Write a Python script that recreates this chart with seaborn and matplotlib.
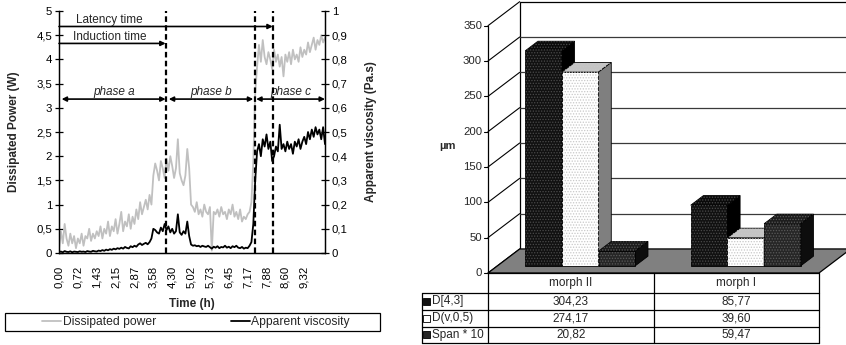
import numpy as np
import pandas as pd
import matplotlib
matplotlib.use("Agg")
import matplotlib.pyplot as plt
import seaborn as sns
from matplotlib.patches import Polygon, Rectangle
from matplotlib.lines import Line2D
from matplotlib.ticker import FuncFormatter
from matplotlib.transforms import blended_transform_factory

# ---- left chart data (one sample every 4.3 min) ----
STEP_H = 0.0716667
power_w = [
    0.10, 0.45, 0.20, 0.60, 0.30, 0.15, 0.40, 0.20, 0.35, 0.10,
    0.30, 0.20, 0.40, 0.15, 0.35, 0.30, 0.50, 0.25, 0.40, 0.30,
    0.45, 0.35, 0.55, 0.30, 0.50, 0.40, 0.65, 0.35, 0.55, 0.45,
    0.70, 0.40, 0.60, 0.85, 0.45, 0.65, 0.55, 0.80, 0.50, 0.75,
    0.60, 0.90, 0.70, 1.05, 0.80, 0.95, 1.10, 0.90, 1.20, 1.00,
    1.60, 1.85, 1.70, 1.50, 1.90, 1.75, 1.55, 1.95, 1.70, 2.00,
    1.80, 1.55, 1.75, 2.35, 1.65, 1.50, 1.40, 1.60, 2.15, 1.75,
    1.00, 0.95, 0.85, 1.05, 0.80, 0.90, 0.75, 1.00, 0.85, 0.80,
    0.95, 0.05, 0.85, 0.80, 0.90, 0.75, 0.95, 0.80, 0.85, 0.70,
    0.90, 0.80, 1.00, 0.75, 0.85, 0.70, 0.90, 0.65, 0.75, 0.70,
    0.80, 0.85, 1.05, 1.90, 3.30, 3.85, 4.30, 3.95, 4.40, 4.05,
    3.90, 4.15, 4.00, 3.80, 4.20, 3.95, 4.10, 3.85, 4.05, 3.65,
    4.10, 3.95, 4.15, 3.90, 4.20, 4.00, 4.10, 3.95, 4.25, 4.05,
    4.20, 4.10, 4.35, 4.15, 4.30, 4.45, 4.20, 4.40, 4.30, 4.50, 4.35, 4.45,
]
viscosity_pas = [
    0.004, 0.006, 0.003, 0.008, 0.005, 0.004, 0.007, 0.003, 0.006, 0.005,
    0.004, 0.007, 0.005, 0.006, 0.004, 0.008, 0.006, 0.005, 0.009, 0.007,
    0.006, 0.010, 0.008, 0.012, 0.009, 0.014, 0.011, 0.016, 0.013, 0.018,
    0.015, 0.020, 0.017, 0.022, 0.018, 0.025, 0.021, 0.019, 0.028, 0.024,
    0.030, 0.026, 0.035, 0.040, 0.033, 0.038, 0.042, 0.036, 0.045, 0.060,
    0.100, 0.095, 0.085, 0.080, 0.105, 0.090, 0.120, 0.095, 0.110, 0.085,
    0.100, 0.080, 0.090, 0.160, 0.085, 0.075, 0.090, 0.080, 0.130, 0.070,
    0.035, 0.030, 0.032, 0.028, 0.030, 0.025, 0.030, 0.027, 0.025, 0.030,
    0.024, 0.018, 0.026, 0.022, 0.028, 0.020, 0.025, 0.023, 0.030, 0.022,
    0.026, 0.020, 0.028, 0.024, 0.030, 0.022, 0.020, 0.025, 0.018, 0.022,
    0.020, 0.030, 0.045, 0.120, 0.300, 0.420, 0.450, 0.400, 0.470, 0.440,
    0.490, 0.430, 0.460, 0.380, 0.400, 0.440, 0.420, 0.530, 0.430, 0.450,
    0.420, 0.460, 0.430, 0.450, 0.410, 0.460, 0.440, 0.470, 0.430, 0.460,
    0.480, 0.450, 0.500, 0.470, 0.510, 0.480, 0.520, 0.490, 0.510, 0.470, 0.520, 0.450,
]
induction_h = 4.05
phase_c_start_h = 7.45
latency_h = 8.12

# ---- right chart data ----
morphs = ["morph II", "morph I"]
series_names = ["D[4,3]", "D(v,0,5)", "Span * 10"]
d43 = [304.23, 85.77]
dv05 = [274.17, 39.60]
span10 = [20.82, 59.47]


def comma(v, fmt="{:g}"):
    return fmt.format(v).replace(".", ",")


sns.set_theme(style="white")
plt.rcParams["font.family"] = ["Liberation Sans", "DejaVu Sans"]
plt.rcParams["font.size"] = 8.5
plt.rcParams["hatch.linewidth"] = 0.6

fig = plt.figure(figsize=(8.46, 3.45), dpi=100)
W, H = 846, 345

# ================= left chart =================
time_h = np.arange(len(power_w)) * STEP_H
df = pd.DataFrame({"time": time_h, "power": power_w, "visc": viscosity_pas})

ax1 = fig.add_axes([59 / W, 92 / H, 266 / W, 242 / H])
ax2 = ax1.twinx()
sns.lineplot(data=df, x="time", y="power", ax=ax1, color="#c0c0c0", lw=1.3)
sns.lineplot(data=df, x="time", y="visc", ax=ax2, color="black", lw=1.3)

ax1.set_xlim(0, time_h[-1])
ax1.set_ylim(0, 5)
ax2.set_ylim(0, 1)
ax1.set_yticks(np.arange(0, 5.01, 0.5))
ax2.set_yticks(np.arange(0, 1.01, 0.1))
ax1.yaxis.set_major_formatter(FuncFormatter(lambda v, p: comma(round(v, 2))))
ax2.yaxis.set_major_formatter(FuncFormatter(lambda v, p: comma(round(v, 2))))
tick_idx = np.arange(0, 131, 10)
ax1.set_xticks(time_h[tick_idx])
ax1.set_xticklabels([comma(t, "{:.2f}") for t in time_h[tick_idx]], rotation=90)

for a in (ax1, ax2):
    a.spines["top"].set_visible(False)
    for s in ("left", "right", "bottom"):
        a.spines[s].set_color("black")
        a.spines[s].set_linewidth(0.9)
ax1.tick_params(axis="y", left=True, direction="inout", length=6, width=0.9,
                labelsize=8.2, pad=2, colors="black")
ax2.tick_params(axis="y", right=True, direction="inout", length=6, width=0.9,
                labelsize=8.2, pad=2, colors="black")
ax1.tick_params(axis="x", bottom=False, labelsize=8.2, pad=3, colors="black")

ax1.set_xlabel("Time (h)", fontweight="bold", fontsize=8.5)
ax1.set_ylabel("Dissipated Power (W)", fontweight="bold", fontsize=8.5)
ax2.set_ylabel("Apparent viscosity (Pa.s)", fontweight="bold", fontsize=8.5)
ax1.yaxis.set_label_coords(-0.147, 0.5)
ax2.yaxis.set_label_coords(1.15, 0.5)
ax1.xaxis.set_label_coords(0.5, -0.185)

for t in (induction_h, phase_c_start_h, latency_h):
    ax2.axvline(t, color="black", lw=1.6, ls=(0, (2.5, 1.5)), zorder=5)

tr = ax1.transData
one_way = dict(arrowstyle="-|>", color="black", lw=1.2, mutation_scale=7,
               shrinkA=0, shrinkB=0)
two_way = dict(arrowstyle="<|-|>", color="black", lw=1.2, mutation_scale=7,
               shrinkA=0, shrinkB=0)
ax2.annotate("", xy=(latency_h, 4.68), xytext=(0, 4.68), xycoords=tr,
             textcoords=tr, arrowprops=one_way, annotation_clip=False)
ax2.annotate("", xy=(induction_h, 4.33), xytext=(0, 4.33), xycoords=tr,
             textcoords=tr, arrowprops=one_way, annotation_clip=False)
ax2.text(1.9, 4.81, "Latency time", transform=tr, ha="center", va="center")
ax2.text(1.94, 4.47, "Induction time", transform=tr, ha="center", va="center")

phases = [("phase a", 0.1, induction_h), ("phase b", 4.17, 7.38),
          ("phase c", 7.49, time_h[-1])]
for name, a, b in phases:
    ax2.annotate("", xy=(b, 3.18), xytext=(a, 3.18), xycoords=tr,
                 textcoords=tr, arrowprops=two_way, annotation_clip=False)
    ax2.text((a + b) / 2, 3.2, name, transform=tr, ha="center", va="bottom",
             style="italic")

# legend box below left chart
fig.add_artist(Rectangle((5 / W, 14 / H), 375 / W, 18 / H, fill=False,
                         ec="black", lw=0.9, transform=fig.transFigure))
handles = [Line2D([], [], color="#c0c0c0", lw=1.3, label="Dissipated power"),
           Line2D([], [], color="black", lw=1.3, label="Apparent viscosity")]
fig.legend(handles=handles, loc="center", bbox_to_anchor=(196 / W, 1 - 322.5 / H),
           ncol=2, frameon=False, handlelength=1.6, handletextpad=0.1,
           columnspacing=6.2, fontsize=8.7)

# ================= right chart (pseudo 3D) =================
ax3 = fig.add_axes([488 / W, 72 / H, 331 / W, 247.3 / H])
DX, DY = 0.1915, 34.0      # depth offset, in data units
F0, FD = 0.30, 0.40        # bar front position / bar depth as share of DX,DY

bars = pd.DataFrame({
    "morph": morphs * 3,
    "series": [s for s in series_names for _ in morphs],
    "value": d43 + dv05 + span10,
})
front_col = {"D[4,3]": "#111111", "D(v,0,5)": "#ffffff", "Span * 10": "#262626"}
top_col = {"D[4,3]": "#0a0a0a", "D(v,0,5)": "#c4c4c4", "Span * 10": "#1c1c1c"}
side_col = {"D[4,3]": "#000000", "D(v,0,5)": "#7f7f7f", "Span * 10": "#0d0d0d"}
dot_col = {"D[4,3]": "#4a4a4a", "D(v,0,5)": "#c8c8c8", "Span * 10": "#5a5a5a"}

sns.barplot(data=bars, x="morph", y="value", hue="series", order=morphs,
            hue_order=series_names, palette=front_col, saturation=1,
            width=0.665, edgecolor="black", linewidth=0.6, legend=False, ax=ax3)
ax3.set_xlim(-0.5, 1.5)
ax3.set_ylim(0, 350)
ax3.axis("off")

for j, (name, cont) in enumerate(zip(series_names, ax3.containers)):
    z = 3 + j
    for rect in cont:
        rect.set_x(rect.get_x() + F0 * DX)
        rect.set_y(F0 * DY)
        rect.set_zorder(z)
        rect.set_clip_on(False)
        x0, y0 = rect.get_x(), rect.get_y()
        x1, y1 = x0 + rect.get_width(), y0 + rect.get_height()
        ox, oy = FD * DX, FD * DY
        top = [(x0, y1), (x1, y1), (x1 + ox, y1 + oy), (x0 + ox, y1 + oy)]
        side = [(x1, y0), (x1 + ox, y0 + oy), (x1 + ox, y1 + oy), (x1, y1)]
        front = [(x0, y0), (x1, y0), (x1, y1), (x0, y1)]
        for pts, col in ((top, top_col[name]), (side, side_col[name])):
            ax3.add_patch(Polygon(pts, closed=True, fc=col, ec="black", lw=0.6,
                                  zorder=z + 0.5, clip_on=False))
        for pts in (front, top):
            ax3.add_patch(Polygon(pts, closed=True, fill=False, lw=0,
                                  ec=dot_col[name], hatch="......",
                                  zorder=z + 0.6, clip_on=False))

# walls and floor
x_l, x_r = -0.5, 1.5
ax3.add_patch(Polygon([(x_l + DX, DY), (x_r + DX, DY), (x_r + DX, 350 + DY),
                       (x_l + DX, 350 + DY)], closed=True, fc="white",
                      ec="black", lw=0.9, zorder=0.5, clip_on=False))
for v in range(50, 301, 50):
    ax3.plot([x_l + DX, x_r + DX], [v + DY, v + DY], color="#3a3a3a", lw=0.9,
             zorder=0.6, clip_on=False)
for v in range(0, 351, 50):
    ax3.plot([x_l, x_l + DX], [v, v + DY], color="black", lw=0.8, zorder=0.6,
             clip_on=False)
    ax3.plot([x_l - 0.024, x_l], [v, v], color="black", lw=0.8, clip_on=False)
    ax3.text(x_l - 0.036, v, str(v), ha="right", va="center", fontsize=8.2)
ax3.plot([x_l, x_l], [0, 350], color="black", lw=0.9, zorder=0.6, clip_on=False)
ax3.add_patch(Polygon([(x_l, 0), (x_r, 0), (x_r + DX, DY), (x_l + DX, DY)],
                      closed=True, fc="#808080", ec="black", lw=0.9, zorder=1,
                      clip_on=False))
ax3.text(x_l - 0.245, 180, "µm", ha="center", va="center", fontweight="bold",
         fontsize=8)

# data table under the chart
tb = blended_transform_factory(ax3.transData, fig.transFigure)
rows_px = [273, 292.7, 310, 326.7, 342.7]
ry = [1 - r / H for r in rows_px]
x_key = x_l - (488 - 421.7) / 165.5
for k, y in enumerate(ry):
    xa = x_l if k == 0 else x_key
    ax3.plot([xa, x_r], [y, y], color="black", lw=0.9, transform=tb, clip_on=False)
for xv in (x_l, 0.5, x_r):
    ax3.plot([xv, xv], [ry[0], ry[-1]], color="black", lw=0.9, transform=tb,
             clip_on=False)
ax3.plot([x_key, x_key], [ry[1], ry[-1]], color="black", lw=0.9, transform=tb,
         clip_on=False)
for c, m in enumerate(morphs):
    ax3.text(c, (ry[0] + ry[1]) / 2, m, transform=tb, ha="center", va="center",
             fontsize=8.5)
for r, (name, vals) in enumerate(zip(series_names, (d43, dv05, span10))):
    yc = (ry[r + 1] + ry[r + 2]) / 2
    for c, v in enumerate(vals):
        ax3.text(c, yc, comma(v, "{:.2f}"), transform=tb, ha="center",
                 va="center", fontsize=8.5)
    key_w = 7 / 165.5
    ax3.add_patch(Rectangle((x_key + 1.5 / 165.5, yc - 3.5 / H), key_w, 7 / H,
                            transform=tb, fc=front_col[name], ec="black",
                            lw=0.6, clip_on=False))
    ax3.text(x_key + 10 / 165.5, yc, name, transform=tb, ha="left",
             va="center", fontsize=8.5)

fig.savefig("out.png", dpi=100)
